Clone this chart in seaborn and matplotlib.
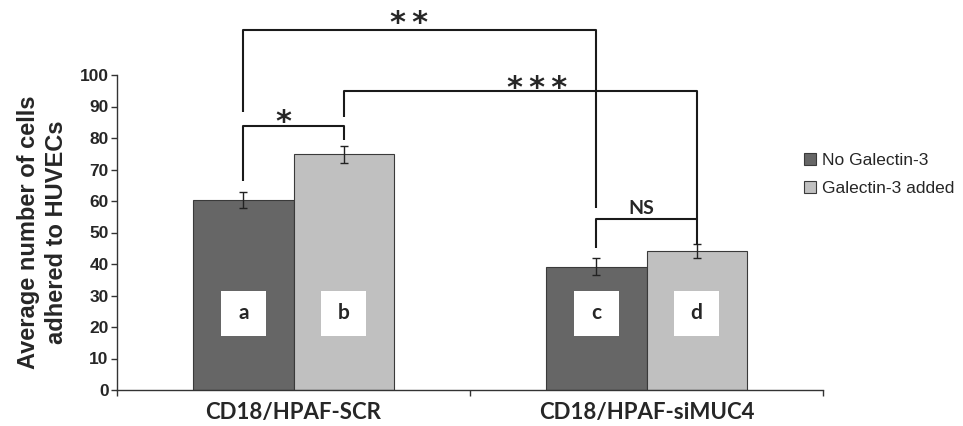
import matplotlib
matplotlib.use("Agg")
import matplotlib.pyplot as plt
from matplotlib.patches import Patch, Rectangle
import pandas as pd
import seaborn as sns

# Data
cell_lines = ["CD18/HPAF-SCR", "CD18/HPAF-siMUC4"]
treatments = ["No Galectin-3", "Galectin-3 added"]
mean_no_gal = [60.3, 39.2]
mean_gal = [74.8, 44.0]
err_no_gal = [2.4, 2.6]
err_gal = [2.7, 2.2]
bar_letters = ["a", "b", "c", "d"]

# significance brackets:
# (label, left bar, right bar, bracket y, left leg end, right leg end, label x shift, label y)
comparisons = [
    ("**", 0, 2, 114.3, 88.3, 57.8, -0.03, 113.5),
    ("***", 1, 3, 95.0, 86.7, 46.0, 0.048, 92.9),
    ("*", 0, 1, 83.8, 66.3, 79.4, -0.028, 82.3),
    ("NS", 2, 3, 54.3, 45.0, 54.3, -0.014, 57.6),
]

sns.set_style("white")
plt.rcParams["font.family"] = ["Liberation Sans", "DejaVu Sans"]

df = pd.DataFrame({
    "cell_line": cell_lines * 2,
    "treatment": [treatments[0]] * 2 + [treatments[1]] * 2,
    "mean": mean_no_gal + mean_gal,
})

dark, light = "#666666", "#c0c0c0"
edge = "#3a3a3a"

fig = plt.figure(figsize=(9.63, 4.26), dpi=100)
ax = fig.add_axes([117 / 963, 1 - 390 / 426, 706 / 963, 315 / 426])

sns.barplot(
    data=df, x="cell_line", y="mean", hue="treatment",
    hue_order=treatments, order=cell_lines,
    palette=[dark, light], width=0.567, errorbar=None,
    edgecolor=edge, linewidth=0.8, saturation=1, legend=False, ax=ax,
)

# bars sorted left to right: a, b, c, d
bars = sorted(ax.patches, key=lambda p: p.get_x())
centers = [b.get_x() + b.get_width() / 2 for b in bars]
heights = [b.get_height() for b in bars]
errs = [err_no_gal[0], err_gal[0], err_no_gal[1], err_gal[1]]

ax.errorbar(centers, heights, yerr=errs, fmt="none", ecolor="#222222",
            elinewidth=1, capsize=3, capthick=1)

# white letter boxes
for cx, letter in zip(centers, bar_letters):
    ax.add_patch(Rectangle((cx - 0.065, 17.3), 0.13, 14, facecolor="white",
                           edgecolor="none", zorder=3))
    ax.text(cx, 24.3, letter, ha="center", va="center", fontsize=15,
            fontfamily="Lato", fontweight="bold", zorder=4)

# significance brackets
line_kw = dict(color="#1a1a1a", lw=1.5, clip_on=False, solid_capstyle="butt")
for label, i, j, top, lb, rb, dx, ty in comparisons:
    x0, x1 = centers[i], centers[j]
    ax.plot([x0, x0, x1, x1], [lb, top, top, rb], **line_kw)
    xm = (x0 + x1) / 2 + dx
    if label == "NS":
        ax.text(xm, ty, label, ha="center", va="center",
                fontsize=14, fontfamily="Lato", fontweight="bold", clip_on=False)
    else:
        ax.text(xm, ty, "\u2009".join(label), ha="center", va="baseline",
                fontsize=22, fontfamily="DejaVu Sans", fontweight="bold",
                clip_on=False)

ax.set_xlim(-0.5, 1.5)
ax.set_ylim(0, 100)
ax.set_yticks(range(0, 101, 10))
ax.set_yticklabels([str(v) for v in range(0, 101, 10)], fontweight="bold",
                   fontsize=12.5)
ax.tick_params(axis="y", direction="out", length=4, width=1, pad=2,
               color="#333333", left=True)

ax.set_xticks([0, 1])
ax.set_xticklabels(cell_lines, fontfamily="Lato", fontweight="bold", fontsize=16)
ax.tick_params(axis="x", which="major", length=0, pad=9)
ax.set_xticks([-0.5, 0.5, 1.5], minor=True)
ax.tick_params(axis="x", which="minor", direction="out", length=4, width=1,
               color="#333333", bottom=True)

ax.set_xlabel("")
ax.set_ylabel("Average number of cells\nadhered to HUVECs", fontsize=17,
              fontweight="bold", linespacing=1.3)
ax.yaxis.set_label_coords(-0.069, 0.5)

for side in ["top", "right"]:
    ax.spines[side].set_visible(False)
for side in ["left", "bottom"]:
    ax.spines[side].set_color("#333333")
    ax.spines[side].set_linewidth(1)

handles = [Patch(facecolor=c, edgecolor=edge, linewidth=0.8) for c in (dark, light)]
fig.legend(handles, treatments, loc="upper left",
           bbox_to_anchor=(804 / 963, 1 - 153 / 426), frameon=False,
           fontsize=12.5, handlelength=0.7, handleheight=0.7, handletextpad=0.35,
           labelspacing=0.75, borderaxespad=0, borderpad=0)

fig.savefig("out.png", dpi=100)
